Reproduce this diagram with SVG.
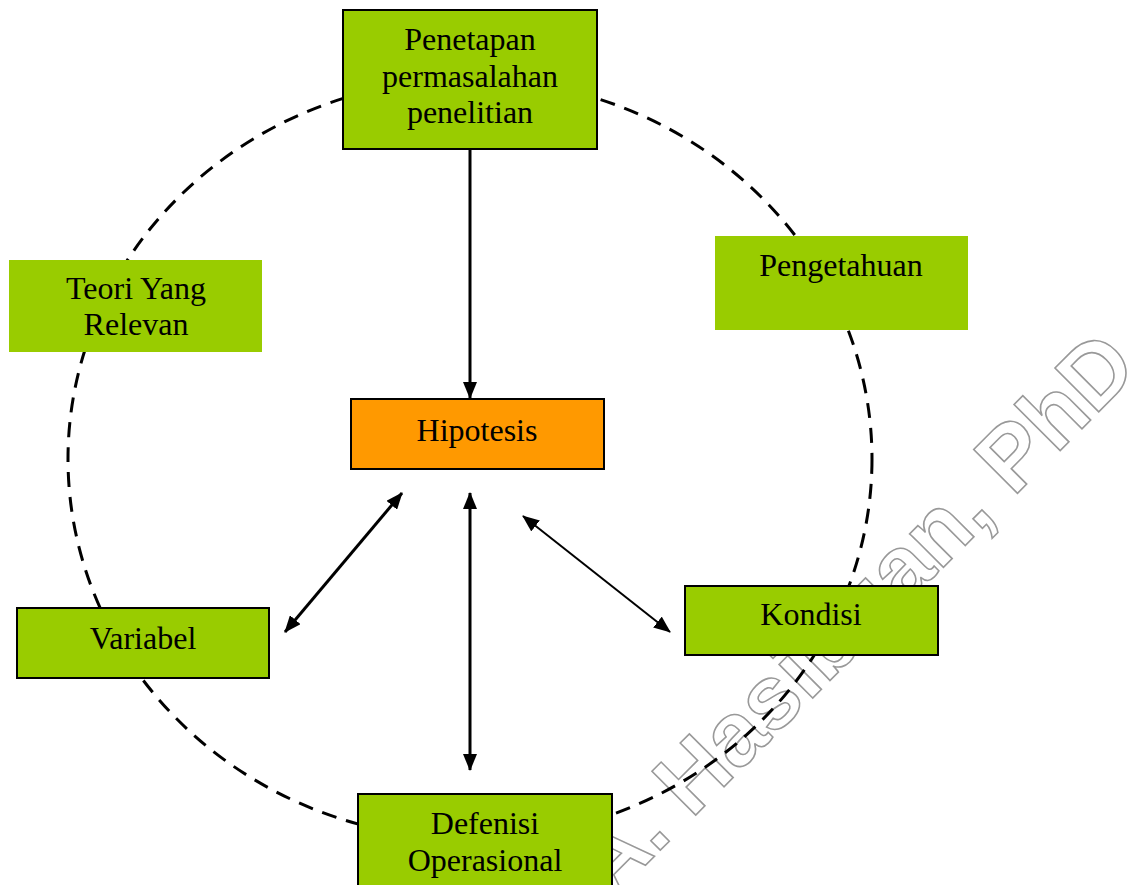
<svg xmlns="http://www.w3.org/2000/svg" width="1134" height="885" viewBox="0 0 1134 885">
  <style>
    .box { fill: #99CC00; stroke: #000; stroke-width: 2; }
    .plain { fill: #99CC00; stroke: none; }
    .hyp { fill: #FF9900; stroke: #000; stroke-width: 2; }
    .lbl { font-family: "Liberation Serif", "Times New Roman", serif; font-size: 32px; fill: #000; text-anchor: middle; }
    .wm { font-family: "Liberation Sans", Arial, sans-serif; font-weight: bold; font-size: 90px; fill: none; stroke: #999; stroke-width: 1.6; text-anchor: middle; }
    .conn { stroke: #000; fill: none; }
  </style>
  <defs>
    <marker id="ah" markerUnits="userSpaceOnUse" markerWidth="18" markerHeight="14" refX="16" refY="7" orient="auto-start-reverse">
      <path d="M0,0 L17,7 L0,14 z" fill="#000"/>
    </marker>
  </defs>

  <g id="watermark">
    <text class="wm" x="852" y="645" transform="rotate(-45 852 612)">A. Hasibuan, PhD</text>
  </g>

  <g id="cycle">
    <ellipse cx="470" cy="459" rx="402" ry="380" fill="none" stroke="#000" stroke-width="3" stroke-dasharray="15 10"/>
  </g>

  <g id="connectors">
    <line class="conn" x1="470" y1="148" x2="470" y2="398" stroke-width="3" marker-end="url(#ah)"/>
    <line class="conn" x1="470" y1="493" x2="470" y2="770" stroke-width="3" marker-start="url(#ah)" marker-end="url(#ah)"/>
    <line class="conn" x1="402" y1="493" x2="285" y2="632" stroke-width="3" marker-start="url(#ah)" marker-end="url(#ah)"/>
    <line class="conn" x1="523" y1="516" x2="670" y2="632" stroke-width="2" marker-start="url(#ah)" marker-end="url(#ah)"/>
  </g>

  <g id="penetapan">
    <rect class="box" x="343" y="10" width="254" height="139"/>
    <text class="lbl" x="470" y="50">Penetapan</text>
    <text class="lbl" x="470" y="87">permasalahan</text>
    <text class="lbl" x="470" y="123">penelitian</text>
  </g>

  <g id="teori">
    <rect class="plain" x="9" y="260" width="253" height="92"/>
    <text class="lbl" x="136" y="299">Teori Yang</text>
    <text class="lbl" x="136" y="335">Relevan</text>
  </g>

  <g id="pengetahuan">
    <rect class="plain" x="715" y="236" width="253" height="94"/>
    <text class="lbl" x="841" y="276">Pengetahuan</text>
  </g>

  <g id="hipotesis">
    <rect class="hyp" x="351" y="399" width="253" height="70"/>
    <text class="lbl" x="477" y="441">Hipotesis</text>
  </g>

  <g id="variabel">
    <rect class="box" x="17" y="608" width="252" height="70"/>
    <text class="lbl" x="143" y="649">Variabel</text>
  </g>

  <g id="kondisi">
    <rect class="box" x="685" y="586" width="253" height="69"/>
    <text class="lbl" x="811" y="625">Kondisi</text>
  </g>

  <g id="defenisi">
    <rect class="box" x="358" y="794" width="254" height="100"/>
    <text class="lbl" x="485" y="834">Defenisi</text>
    <text class="lbl" x="485" y="871">Operasional</text>
  </g>
</svg>
